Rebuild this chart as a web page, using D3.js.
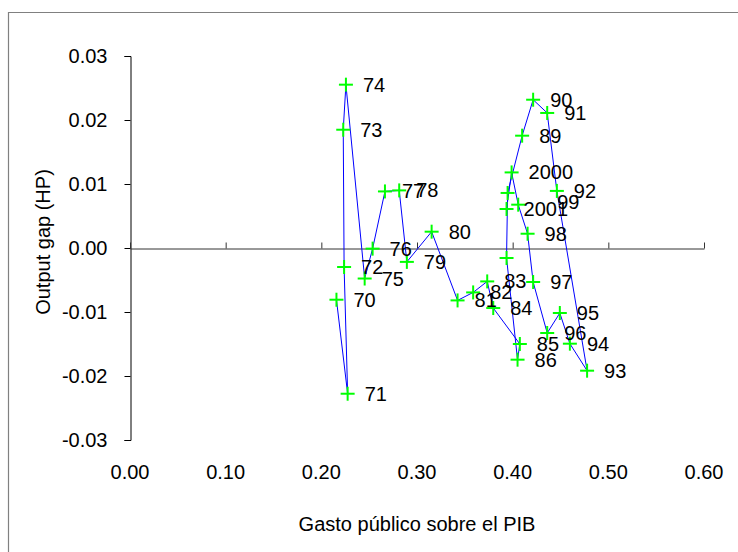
<!DOCTYPE html>
<html>
<head>
<meta charset="utf-8">
<script src="https://cdn.jsdelivr.net/npm/d3@7/dist/d3.min.js"></script>
<style>
  html, body { margin: 0; padding: 0; background: #fff; }
  svg { display: block; font-family: "Liberation Sans", Arial, sans-serif; }
</style>
</head>
<body>
<svg id="chart" width="738" height="552"></svg>
<script>
// ---- data ----
const pointLabels = ["70","71","72","73","74","75","76","77","78","79","80","81","82","83","84","85","86","","","89","90","91","92","93","94","95","96","97","98","99","2000","2001"];
const gastoPIB = [0.2158,0.2275,0.2238,0.2229,0.2257,0.2453,0.2536,0.2665,0.2814,0.2894,0.3153,0.3424,0.3587,0.3734,0.3797,0.4075,0.4051,0.3936,0.3947,0.4099,0.4214,0.4361,0.4462,0.4778,0.4598,0.4493,0.4361,0.4214,0.4156,0.4058,0.3989,0.3936];
const outputGap = [-0.00808,-0.02277,-0.00297,0.01848,0.02552,-0.00477,-0.0001,0.00884,0.0090,-0.00217,0.00255,-0.00819,-0.00694,-0.00522,-0.00938,-0.0150,-0.01745,-0.00156,0.0086,0.01755,0.02317,0.0211,0.00892,-0.01917,-0.01495,-0.01016,-0.01328,-0.00531,0.00223,0.00677,0.01181,0.00609];
const xTicks = [0, 0.1, 0.2, 0.3, 0.4, 0.5, 0.6];
const yTicks = [-0.03, -0.02, -0.01, 0, 0.01, 0.02, 0.03];
const xTitle = "Gasto público sobre el PIB";
const yTitle = "Output gap (HP)";
// manual label nudges (style only)
const labelNudge = { "99": [22, -3] };

const points = gastoPIB.map((g, i) => ({ x: g, y: outputGap[i], label: pointLabels[i] }));

const svg = d3.select("#chart");
const FONT = 20;
const fmt = d => d3.format(".2f")(d).replace("\u2212", "-");

// outer frame (chart area border, extends past the viewport)
svg.append("path")
  .attr("d", "M8.5,560 L8.5,12.5 L745,12.5")
  .attr("fill", "none").attr("stroke", "#808080").attr("stroke-width", 1.2);

const x = d3.scaleLinear().domain([0, 0.6]).range([130, 704]);
const y = d3.scaleLinear().domain([-0.03, 0.03]).range([440, 56]);

// y axis
const yAxis = svg.append("g").attr("transform", "translate(130.5,0)")
  .call(d3.axisLeft(y).tickValues(yTicks).tickFormat(fmt).tickSize(6).tickPadding(17));
yAxis.select(".domain").attr("stroke", "#000").attr("stroke-width", 1);
yAxis.selectAll(".tick line").attr("stroke", "#000");
yAxis.selectAll("text").attr("font-size", FONT).attr("font-family", "Liberation Sans, Arial, sans-serif").attr("fill", "#000");

// x axis along zero line, ticks pointing up, labels placed at bottom
const yZero = Math.round(y(0)) + 0.5;
const xAxis = svg.append("g").attr("transform", `translate(0,${yZero})`)
  .call(d3.axisTop(x).tickValues(xTicks).tickFormat("").tickSize(6).tickSizeOuter(0));
xAxis.select(".domain").attr("stroke", "#333").attr("stroke-width", 1);
xAxis.selectAll(".tick line").attr("stroke", "#333");

svg.append("g").selectAll("text").data(xTicks).join("text")
  .attr("x", d => x(d)).attr("y", 479)
  .attr("text-anchor", "middle").attr("font-size", FONT).attr("fill", "#000")
  .text(fmt);

// titles
svg.append("text").attr("x", 417).attr("y", 531)
  .attr("text-anchor", "middle").attr("font-size", FONT).attr("fill", "#000")
  .text(xTitle);
svg.append("text").attr("transform", `translate(50,${y(0) - 6}) rotate(-90)`)
  .attr("text-anchor", "middle").attr("font-size", FONT).attr("fill", "#000")
  .text(yTitle);

// connecting line
const line = d3.line().x(d => x(d.x)).y(d => y(d.y));
svg.append("path").datum(points).attr("d", line)
  .attr("fill", "none").attr("stroke", "#0000FF").attr("stroke-width", 1);

// plus markers
const m = 7;
const mk = svg.append("g").selectAll("g").data(points).join("g")
  .attr("transform", d => `translate(${x(d.x)},${y(d.y)})`);
mk.append("line").attr("x1", -m).attr("x2", m).attr("y1", 0).attr("y2", 0)
  .attr("stroke", "#00FF00").attr("stroke-width", 2);
mk.append("line").attr("x1", 0).attr("x2", 0).attr("y1", -m).attr("y2", m)
  .attr("stroke", "#00FF00").attr("stroke-width", 2);

// data labels
svg.append("g").selectAll("text").data(points.filter(d => d.label !== "")).join("text")
  .attr("x", d => x(d.x) + 17 + (labelNudge[d.label] ? labelNudge[d.label][0] : 0))
  .attr("y", d => y(d.y) + 7 + (labelNudge[d.label] ? labelNudge[d.label][1] : 0))
  .attr("font-size", FONT).attr("fill", "#000")
  .text(d => d.label);
</script>
</body>
</html>
